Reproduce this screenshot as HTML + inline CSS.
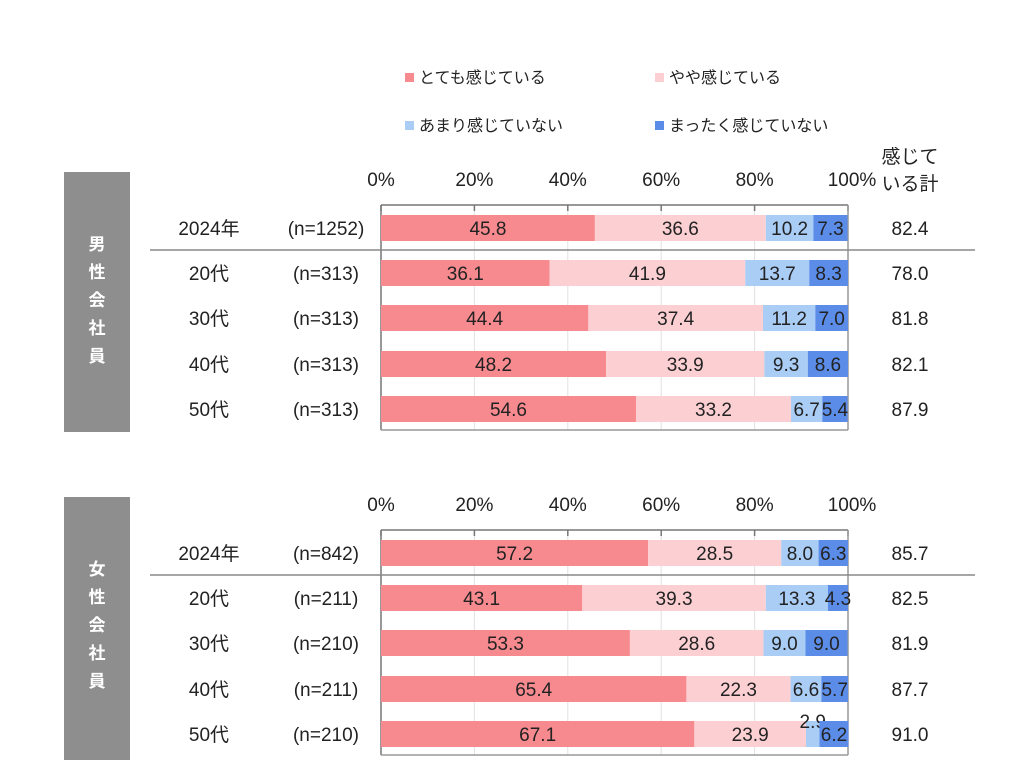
<!DOCTYPE html>
<html><head><meta charset="utf-8"><style>
body{margin:0;background:#fff;width:1024px;height:774px;overflow:hidden;font-family:"Liberation Sans","Noto Sans CJK JP",sans-serif;}
svg text{font-family:"Liberation Sans","Noto Sans CJK JP",sans-serif;}
</style></head><body>
<svg id="c" width="1024" height="774"></svg>
<script>
const series=["とても感じている","やや感じている","あまり感じていない","まったく感じていない"];
const colors=["#f78a8f","#fcd0d3","#a9cdf5","#5b8de8"];
const rowLabels=["2024年","20代","30代","40代","50代"];
const maleN=["(n=1252)","(n=313)","(n=313)","(n=313)","(n=313)"];
const maleVals=[[45.8,36.6,10.2,7.3],[36.1,41.9,13.7,8.3],[44.4,37.4,11.2,7.0],[48.2,33.9,9.3,8.6],[54.6,33.2,6.7,5.4]];
const maleTot=["82.4","78.0","81.8","82.1","87.9"];
const femN=["(n=842)","(n=211)","(n=210)","(n=211)","(n=210)"];
const femVals=[[57.2,28.5,8.0,6.3],[43.1,39.3,13.3,4.3],[53.3,28.6,9.0,9.0],[65.4,22.3,6.6,5.7],[67.1,23.9,2.9,6.2]];
const femTot=["85.7","82.5","81.9","87.7","91.0"];
const ticks=[0,20,40,60,80,100];
const svg=document.getElementById('c');const NS="http://www.w3.org/2000/svg";
function el(t,a,txt){const e=document.createElementNS(NS,t);for(const k in a)e.setAttribute(k,a[k]);if(txt!==undefined)e.textContent=txt;svg.appendChild(e);return e;}
const X0=381,X1=848;const xs=v=>X0+(X1-X0)*v/100;
const FS=19;
const lg=[[405,78],[655,78],[405,126],[655,126]];
series.forEach((s,i)=>{
 const r=el('rect',{x:lg[i][0],y:lg[i][1]-5,width:9,height:9,fill:colors[i]});
 
 const t=el('text',{x:lg[i][0]+14,y:lg[i][1]+5,'font-size':16,fill:'#222'},s);
 
});
const h1=el('text',{x:910,y:163,'font-size':FS,fill:'#222','text-anchor':'middle'},'感じて');
el('text',{x:910,y:190,'font-size':FS,fill:'#222','text-anchor':'middle'},'いる計');
function panel(top,label,ns,vals,tots,pre){
 const boxTop=top, axTop=top+33, rowY=[56,101,146,192,237].map(v=>top+v), axBot=top+258;
 const g=el('rect',{x:64,y:boxTop,width:66,height:boxTop<300?260:263,fill:'#8e8e8e'});
 
 [...label].forEach((ch,i)=>{const t=el('text',{x:97,y:boxTop+78+i*28,'font-size':17,'font-weight':'bold',fill:'#fff','text-anchor':'middle'},ch);});
 ticks.forEach(v=>{
  const t=el('text',{x:xs(v)+(v==100?4:0),y:top+14,'font-size':FS,fill:'#222','text-anchor':'middle'},v+'%');
  
  if(v>0&&v<100)el('line',{x1:xs(v),x2:xs(v),y1:axTop,y2:axBot,stroke:'#e2e2e2','stroke-width':1});
  el('line',{x1:xs(v),x2:xs(v),y1:axTop,y2:axTop+6,stroke:'#777','stroke-width':1.5});
 });
 el('line',{x1:X0,x2:X1,y1:axTop,y2:axTop,stroke:'#777','stroke-width':1.5});
 el('line',{x1:X0,x2:X0,y1:axTop,y2:axBot,stroke:'#777','stroke-width':1.5});
 el('line',{x1:X1,x2:X1,y1:axTop,y2:axBot,stroke:'#999','stroke-width':1.5});
 el('line',{x1:X0,x2:X1,y1:axBot,y2:axBot,stroke:'#999','stroke-width':1.5});
 el('line',{x1:150,x2:975,y1:rowY[0]+22,y2:rowY[0]+22,stroke:'#888','stroke-width':1.5});
 vals.forEach((row,r)=>{
  const y=rowY[r];
  const a=el('text',{x:209,y:y+7,'font-size':FS,fill:'#222','text-anchor':'middle'},rowLabels[r]);
  const b=el('text',{x:326,y:y+7,'font-size':FS,fill:'#222','text-anchor':'middle'},ns[r]);
  let acc=0;
  row.forEach((v,i)=>{
   const rc=el('rect',{x:xs(acc),y:y-13,width:xs(acc+v)-xs(acc),height:26,fill:colors[i]});
   
   let cy=y+7;if(v<4&&i==2)cy=y-6;
   const t=el('text',{x:xs(acc+v/2),y:cy,'font-size':FS,fill:'#222','text-anchor':'middle'},v.toFixed(1));
   
   acc+=v;
  });
  const tt=el('text',{x:910,y:y+7,'font-size':FS,fill:'#222','text-anchor':'middle'},tots[r]);
 });
}
panel(172,'男性会社員',maleN,maleVals,maleTot,'male');
panel(497,'女性会社員',femN,femVals,femTot,'female');
</script></body></html>
